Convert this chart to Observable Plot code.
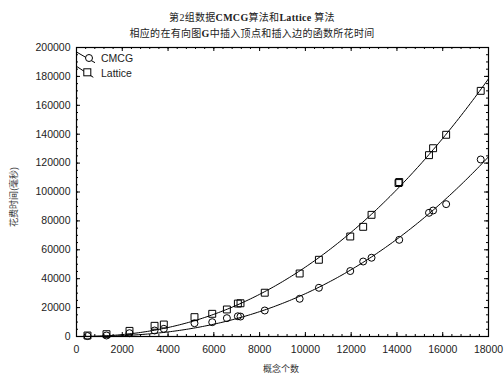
<!DOCTYPE html>
<html><head><meta charset="utf-8">
<script src="https://cdn.jsdelivr.net/npm/d3@7"></script>
<script src="https://cdn.jsdelivr.net/npm/@observablehq/plot@0.6"></script>
<style>
body{margin:0;background:#fff;}
#wrap{position:relative;width:504px;height:375px;overflow:hidden;background:#fff;}
#wrap svg{position:absolute;left:0;top:0;}
.t{position:absolute;left:0;width:504px;text-align:center;font-family:"Liberation Serif","Noto Sans CJK SC",serif;font-size:10px;color:#222;white-space:nowrap;letter-spacing:0.3px;}
</style></head><body>
<div id="wrap"></div>
<script>
// ---- data ----
const titleLine1 = ["第2组数据", "CMCG", "算法和", "Lattice", " 算法"];
const titleLine2 = ["相应的在有向图", "G", "中插入顶点和插入边的函数所花时间"];
const xLabel = "概念个数";
const yLabel = "花费时间(毫秒)";
const seriesNames = ["CMCG", "Lattice"];

const concepts = [480, 1310, 2315, 3410, 3815, 5155, 5930, 6570, 7050, 7165, 8225, 9750, 10590, 11960, 12525, 12890, 14100, 15400, 15580, 16150, 17660];
const cmcgTime = [300, 700, 2300, 4150, 5300, 9200, 9900, 12700, 14000, 13800, 18000, 26100, 33700, 45300, 51900, 54500, 66900, 85600, 87200, 91600, 122500];
const latticeTime = [700, 1600, 3900, 7400, 8300, 13400, 15700, 18700, 22800, 23000, 30300, 43600, 53100, 69200, 75900, 84200, 106900, 125500, 130300, 139600, 170000];
const latticeExtraX = [14070];
const latticeExtraY = [106200];

const xTicks = [0, 2000, 4000, 6000, 8000, 10000, 12000, 14000, 16000, 18000];
const yTicks = [0, 20000, 40000, 60000, 80000, 100000, 120000, 140000, 160000, 180000, 200000];
const xMinorStep = 400;
const yMinorStep = 5000;

// ---- build tables ----
const cmcg = concepts.map((x, i) => ({x, y: cmcgTime[i]}));
const lattice = concepts.map((x, i) => ({x, y: latticeTime[i]}))
  .concat(latticeExtraX.map((x, i) => ({x, y: latticeExtraY[i]})));

// least-squares power-law fit y = a·x^b (fitted to the data, as in the original chart)
function powerFit(pts) {
  let best = null;
  for (let b = 1; b <= 3.0001; b += 0.001) {
    let num = 0, den = 0;
    for (const p of pts) { const u = Math.pow(p.x / 1000, b); num += p.y * u; den += u * u; }
    const a = num / den;
    let sse = 0;
    for (const p of pts) { const r = p.y - a * Math.pow(p.x / 1000, b); sse += r * r; }
    if (!best || sse < best.sse) best = {a, b, sse};
  }
  return x => best.a * Math.pow(x / 1000, best.b);
}
const fC = powerFit(cmcg), fL = powerFit(lattice);
const xs = d3.range(0, 18001, 100);
const fitC = xs.map(x => ({x, y: fC(x)}));
const fitL = xs.map(x => ({x, y: fL(x)}));

const xMinor = d3.range(0, 18001, xMinorStep);
const yMinor = d3.range(0, 200001, yMinorStep);

const W = 504, Hh = 375, mL = 76, mR = 16, mT = 47, mB = 39;
const PW = W - mL - mR, PH = Hh - mT - mB;

const plot = Plot.plot({
  width: W, height: Hh,
  marginLeft: mL, marginRight: mR, marginTop: mT, marginBottom: mB,
  style: {background: "transparent", fontFamily: "'Liberation Sans', Arial, sans-serif", color: "#222"},
  x: {domain: [0, 18000]},
  y: {domain: [0, 200000]},
  marks: [
    // inward ticks on all four sides
    Plot.ruleX(xMinor, {insetTop: PH - 2, stroke: "#000"}),
    Plot.ruleX(xMinor, {insetBottom: PH - 2, stroke: "#000"}),
    Plot.ruleX(xTicks, {insetTop: PH - 4, stroke: "#000"}),
    Plot.ruleX(xTicks, {insetBottom: PH - 4, stroke: "#000"}),
    Plot.ruleY(yMinor, {insetRight: PW - 2, stroke: "#000"}),
    Plot.ruleY(yMinor, {insetLeft: PW - 2, stroke: "#000"}),
    Plot.ruleY(yTicks, {insetRight: PW - 4, stroke: "#000"}),
    Plot.ruleY(yTicks, {insetLeft: PW - 4, stroke: "#000"}),
    Plot.axisX({ticks: xTicks, tickSize: 0, tickPadding: 9, fontSize: 10.5, label: null, tickFormat: d3.format("d")}),
    Plot.axisY({ticks: yTicks, tickSize: 0, tickPadding: 6, fontSize: 10.5, label: null, tickFormat: d3.format("d")}),
    Plot.frame({stroke: "#000", strokeWidth: 1.2}),
    Plot.line(fitL, {x: "x", y: "y", stroke: "#000", strokeWidth: 1, clip: true}),
    Plot.line(fitC, {x: "x", y: "y", stroke: "#000", strokeWidth: 1, clip: true}),
    Plot.dot(cmcg, {x: "x", y: "y", r: 3.5, symbol: "circle", stroke: "#000", fill: "none", strokeWidth: 1}),
    Plot.dot(lattice, {x: "x", y: "y", r: 3.9, symbol: "square", stroke: "#000", fill: "none", strokeWidth: 1})
  ]
});

const wrap = document.getElementById("wrap");
wrap.appendChild(plot);

// titles
function titleDiv(parts, top) {
  const d = document.createElement("div");
  d.className = "t"; d.style.top = top + "px";
  parts.forEach((p, i) => {
    const s = document.createElement(i % 2 === 1 ? "b" : "span");
    s.textContent = p; d.appendChild(s);
  });
  wrap.appendChild(d);
}
titleDiv(titleLine1, 9);
titleDiv(titleLine2, 25);

// legend and axis titles
const svg = d3.select(plot);
const g = svg.append("g").attr("text-anchor", "start");
g.append("line").attr("x1", 76).attr("y1", 51.7).attr("x2", 95).attr("y2", 62.7).attr("stroke", "#000");
g.append("circle").attr("cx", 89).attr("cy", 58).attr("r", 3.5).attr("fill", "#fff").attr("stroke", "#000");
g.append("text").attr("x", 101).attr("y", 58).attr("dy", "0.35em").attr("font-size", 10.5).attr("fill", "#222")
  .attr("text-anchor", "start").attr("font-family", "'Liberation Sans', Arial, sans-serif").text(seriesNames[0]);
g.append("line").attr("x1", 76).attr("y1", 66).attr("x2", 93.3).attr("y2", 77.3).attr("stroke", "#000");
g.append("rect").attr("x", 83.8).attr("y", 68.8).attr("width", 7).attr("height", 7).attr("fill", "#fff").attr("stroke", "#000");
g.append("text").attr("x", 101).attr("y", 73.3).attr("dy", "0.35em").attr("font-size", 10.5).attr("fill", "#222")
  .attr("text-anchor", "start").attr("font-family", "'Liberation Sans', Arial, sans-serif").text(seriesNames[1]);

g.append("text").attr("transform", "translate(14,197) rotate(-90)").attr("text-anchor", "middle").attr("dy", "0.35em")
  .attr("font-size", 9).attr("fill", "#333").attr("font-family", "'Noto Sans CJK SC', sans-serif").text(yLabel);
g.append("text").attr("x", 281).attr("y", 369).attr("text-anchor", "middle").attr("dy", "0.35em")
  .attr("font-size", 9).attr("fill", "#333").attr("font-family", "'Noto Sans CJK SC', sans-serif").text(xLabel);
</script>
</body></html>
